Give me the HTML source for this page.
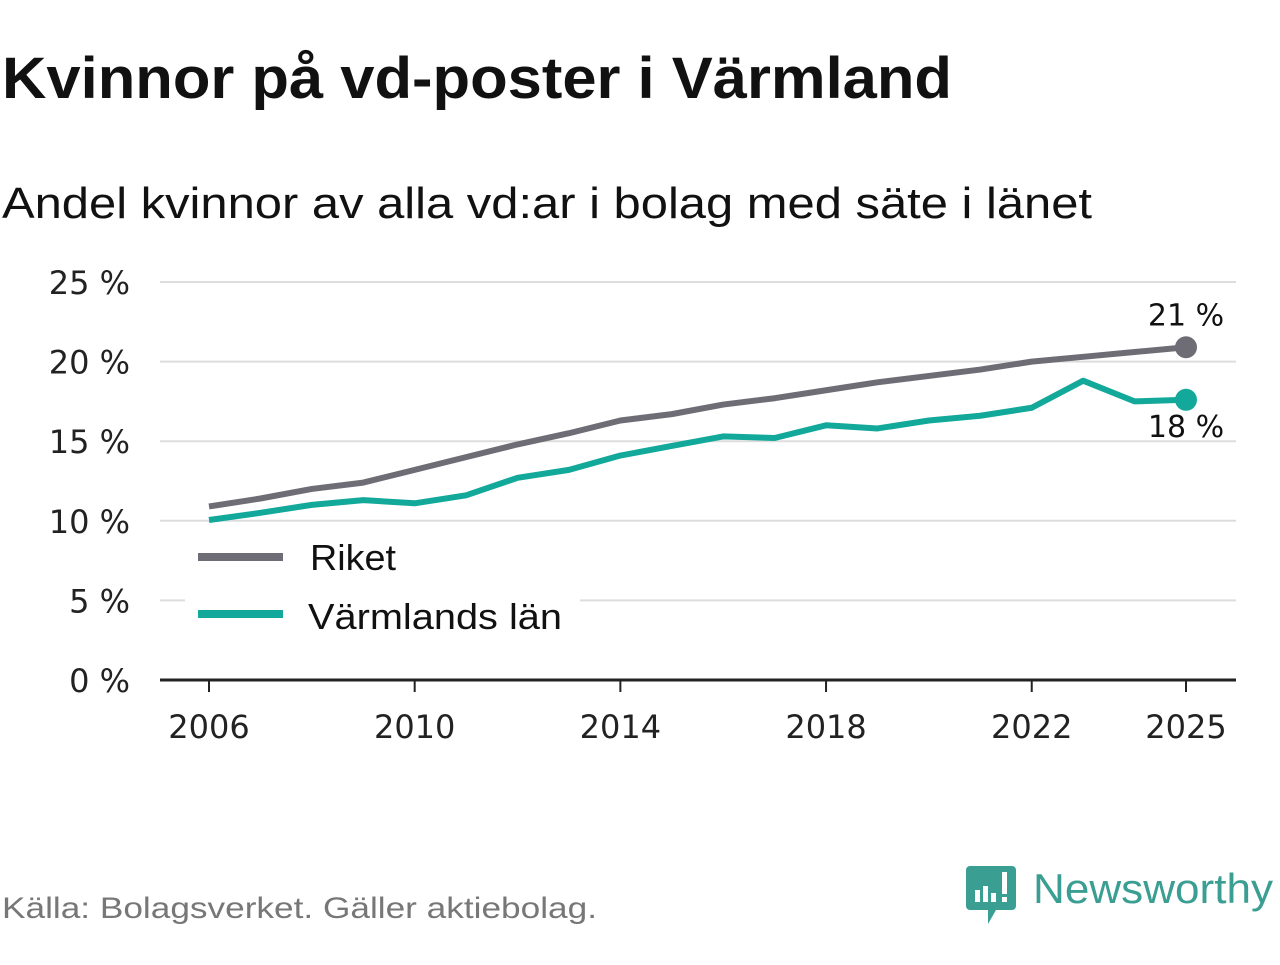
<!DOCTYPE html>
<html><head><meta charset="utf-8"><style>
body{margin:0;background:#fff;width:1280px;height:960px;overflow:hidden}
text{font-family:"Liberation Sans",sans-serif}
.dv{font-family:"DejaVu Sans",sans-serif}
</style></head><body>
<svg id="chart" width="1280" height="960" xmlns="http://www.w3.org/2000/svg">
<text x="2" y="98" font-size="58" font-weight="bold" fill="#111" textLength="950" lengthAdjust="spacingAndGlyphs">Kvinnor på vd-poster i Värmland</text>
<text x="2" y="218" font-size="44" fill="#111" textLength="1090" lengthAdjust="spacingAndGlyphs">Andel kvinnor av alla vd:ar i bolag med säte i länet</text>
<g id="grid"></g>
<g id="series"></g>
<g id="legend">
<rect x="185" y="535" width="395" height="105" fill="#fff"/>
<line x1="198" y1="557" x2="283" y2="557" stroke="#6e6d75" stroke-width="8"/>
<text x="310" y="570" font-size="36" fill="#111" textLength="86" lengthAdjust="spacingAndGlyphs">Riket</text>
<line x1="198" y1="614" x2="283" y2="614" stroke="#12a89a" stroke-width="8"/>
<text x="308" y="629" font-size="36" fill="#111" textLength="254" lengthAdjust="spacingAndGlyphs">Värmlands län</text>
</g>
<text x="2" y="918" font-size="30" fill="#777" textLength="595" lengthAdjust="spacingAndGlyphs">Källa: Bolagsverket. Gäller aktiebolag.</text>
<g>
<path d="M970 866 h42 a4 4 0 0 1 4 4 v36 a4 4 0 0 1 -4 4 h-16 l-8 14 v-14 h-18 a4 4 0 0 1 -4 -4 v-36 a4 4 0 0 1 4 -4z" fill="#3a9e92"/>
<rect x="975" y="890" width="5" height="12" fill="#fff"/><rect x="983" y="886" width="5" height="16" fill="#fff"/><rect x="991" y="893" width="5" height="9" fill="#fff"/><rect x="1002" y="872" width="5" height="22" fill="#fff"/><rect x="1002" y="897" width="5" height="5" fill="#fff"/>
<text x="1033" y="903" font-size="42" fill="#3a9e92" textLength="240" lengthAdjust="spacingAndGlyphs">Newsworthy</text>
</g>
</svg>
<script>
const years=[2006,2007,2008,2009,2010,2011,2012,2013,2014,2015,2016,2017,2018,2019,2020,2021,2022,2023,2024,2025];
const riket=[10.9,11.4,12.0,12.4,13.2,14.0,14.8,15.5,16.3,16.7,17.3,17.7,18.2,18.7,19.1,19.5,20.0,20.3,20.6,20.9];
const varmland=[10.05,10.5,11.0,11.3,11.1,11.6,12.7,13.2,14.1,14.7,15.3,15.2,16.0,15.8,16.3,16.6,17.1,18.8,17.5,17.6];
const yTicks=[0,5,10,15,20,25];
const xTicks=[2006,2010,2014,2018,2022,2025];
const NS="http://www.w3.org/2000/svg";
const x=v=>209+(v-2006)*(1186-209)/19;
const y=v=>680-v*(680-282)/25;
function mk(t,a,p){const e=document.createElementNS(NS,t);for(const k in a)e.setAttribute(k,a[k]);p.appendChild(e);return e;}
const g=document.getElementById('grid'),s=document.getElementById('series');
yTicks.forEach(v=>{
 if(v>0){const l=mk('line',{x1:160,x2:1236,y1:y(v),y2:y(v),stroke:'#ddd','stroke-width':2},g);
 
 }
 const t=mk('text',{x:130,y:y(v)+12,'font-size':32,fill:'#222','text-anchor':'end','class':'dv'},g);t.textContent=v+' %';
 
 
});
const ax=mk('line',{x1:160,x2:1236,y1:680,y2:680,stroke:'#222','stroke-width':3},g);


xTicks.forEach(v=>{
 const tk=mk('line',{x1:x(v),x2:x(v),y1:680,y2:692,stroke:'#222','stroke-width':2},g);
 
 
 const t=mk('text',{x:x(v),y:738,'font-size':32,fill:'#222','text-anchor':'middle','class':'dv'},g);t.textContent=v;
 
 
});
function line(vals,col,name,dy){
 const p=mk('polyline',{points:vals.map((v,i)=>x(years[i])+','+y(v)).join(' '),fill:'none',stroke:col,'stroke-width':6,'stroke-linejoin':'round'},s);
 
 
 const n=vals.length-1;
 const c=mk('circle',{cx:x(years[n]),cy:y(vals[n]),r:11,fill:col},s);
 
 
 const t=mk('text',{x:x(years[n]),y:y(vals[n])+dy,'font-size':30,fill:'#111','text-anchor':'middle','class':'dv'},s);
 t.textContent=Math.round(vals[n])+' %';
 
 
}
line(riket,'#6e6d75','riket',-22);
line(varmland,'#12a89a','varmland',37);
</script>
</body></html>
